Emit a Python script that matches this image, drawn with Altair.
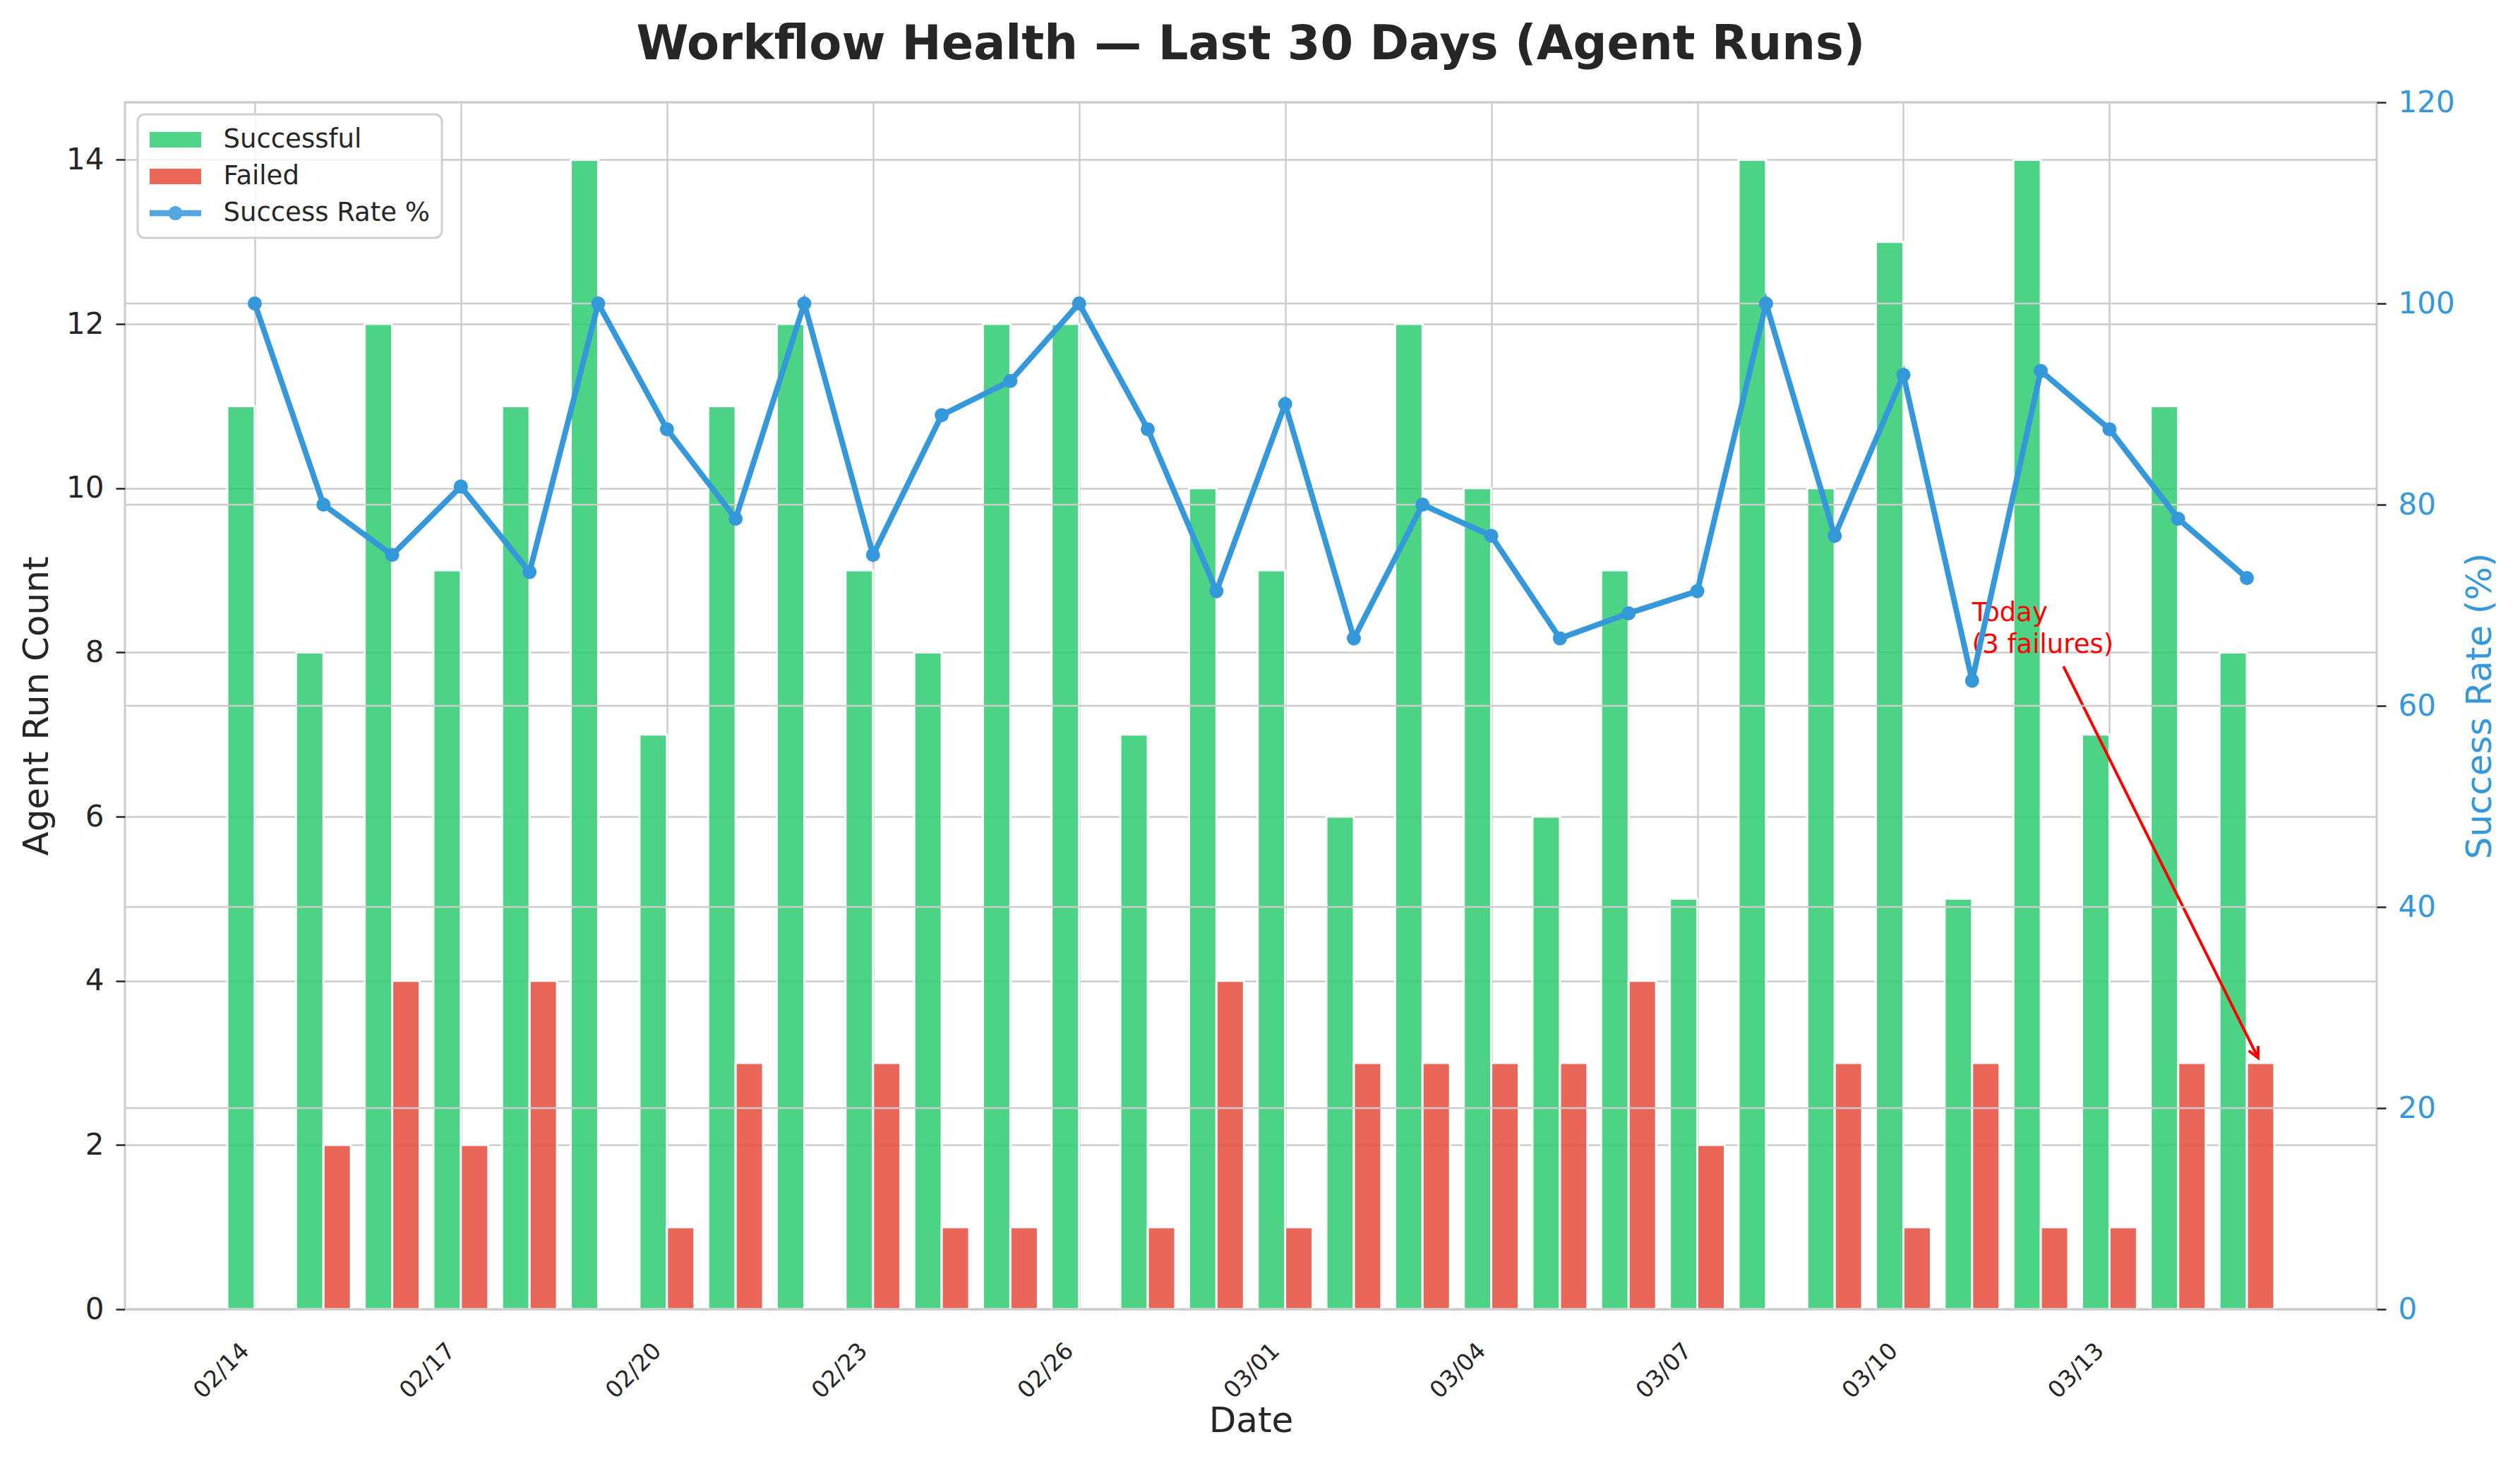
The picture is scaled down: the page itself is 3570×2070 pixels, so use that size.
import math
import altair as alt
import pandas as pd

# ---------------- data ----------------
DATES = ["02/14", "02/15", "02/16", "02/17", "02/18", "02/19", "02/20", "02/21",
         "02/22", "02/23", "02/24", "02/25", "02/26", "02/27", "02/28", "03/01",
         "03/02", "03/03", "03/04", "03/05", "03/06", "03/07", "03/08", "03/09",
         "03/10", "03/11", "03/12", "03/13", "03/14", "03/15"]
SUCCESSFUL = [11, 8, 12, 9, 11, 14, 7, 11, 12, 9, 8, 12, 12, 7, 10,
              9, 6, 12, 10, 6, 9, 5, 14, 10, 13, 5, 14, 7, 11, 8]
FAILED = [0, 2, 4, 2, 4, 0, 1, 3, 0, 3, 1, 1, 0, 1, 4,
          1, 3, 3, 3, 3, 4, 2, 0, 3, 1, 3, 1, 1, 3, 3]
SUCCESS_RATE = [100, 80, 75, 81.8, 73.3, 100, 87.5, 78.6, 100, 75, 88.9, 92.3, 100, 87.5, 71.4,
                90, 66.7, 80, 76.9, 66.7, 69.2, 71.4, 100, 76.9, 92.9, 62.5, 93.3, 87.5, 78.6, 72.7]
X_TICK_DAYS = [0, 3, 6, 9, 12, 15, 18, 21, 24, 27]
COUNT_TICKS = [0, 2, 4, 6, 8, 10, 12, 14]
RATE_TICKS = [0, 20, 40, 60, 80, 100, 120]
SERIES = ["Successful", "Failed", "Success Rate %"]
COLORS = ["#2ecc71", "#e74c3c", "#3498db"]
ANNOT_LINES = ["Today", "(3 failures)"]
ANNOT_TEXT_AT = (25, 8)      # day index, count
ANNOT_ARROW_FROM = (26.33, 7.83)
ANNOT_TARGET = (29.2, 3)     # failed bar of today

# ---------------- geometry / style ----------------
W, H = 3190, 1710
XMIN, XMAX = -1.89, 30.89
YMAX = 14.7
RMAX = 120
BAR_W = 0.4
FONT = "DejaVu Sans"
DARK = "#262626"
GRID = "#cccccc"

days = list(range(len(DATES)))
rows = []
for i in days:
    rows.append({"idx": i, "series": "Successful", "value": SUCCESSFUL[i],
                 "x0": i - BAR_W, "x1": i, "base": 0})
    rows.append({"idx": i, "series": "Failed", "value": FAILED[i],
                 "x0": i, "x1": i + BAR_W, "base": 0})
bars_df = pd.DataFrame(rows)
rate_df = pd.DataFrame({"idx": days, "rate": SUCCESS_RATE, "date": DATES})

label_expr = "[" + ",".join("'%s'" % d for d in DATES) + "][datum.value]"

xscale = alt.Scale(domain=[XMIN, XMAX], nice=False, zero=False)
yscale = alt.Scale(domain=[0, YMAX], nice=False, zero=True)
rscale = alt.Scale(domain=[0, RMAX], nice=False, zero=True)

# legend symbols (scale = sqrt(size)/2 = 19 px per unit)
RECT = "M-1.92,-0.58L1.92,-0.58L1.92,0.58L-1.92,0.58Z"
LINEDOT = ("M-1.92,-0.22L1.92,-0.22L1.92,0.22L-1.92,0.22Z"
           "M0.53,0A0.53,0.53,0,1,1,-0.53,0A0.53,0.53,0,1,1,0.53,0Z")

leg = alt.Legend(title=None, orient="none", legendX=18, legendY=17, padding=17,
                 rowPadding=15, labelFontSize=37, labelColor=DARK, labelFont=FONT,
                 labelOffset=49, labelLimit=0, strokeColor="#d0d0d0",
                 fillColor="rgba(255,255,255,0.8)", cornerRadius=10,
                 symbolSize=1444, symbolOffset=17.5, symbolOpacity=0.85,
                 symbolStrokeWidth=0)
color_enc = alt.Color("series:N", scale=alt.Scale(domain=SERIES, range=COLORS), legend=leg)

x_axis = alt.Axis(values=X_TICK_DAYS, labelExpr=label_expr, labelAngle=315,
                  labelAlign="right", labelBaseline="top", labelFontSize=33,
                  labelColor=DARK, labelPadding=42, labelOffset=-25, labelFlush=False,
                  labelOverlap=False, ticks=False, grid=True, gridColor=GRID,
                  gridWidth=2.5, domain=False, title="Date", titleFontSize=50,
                  titleFontWeight="normal", titleColor=DARK, titleY=158,
                  titleBaseline="middle")


def X(field):
    # every layer shares the same x axis definition
    return alt.X(field, scale=xscale, axis=x_axis)


y_axis = alt.Axis(orient="left", values=COUNT_TICKS, grid=True, gridColor=GRID,
                  gridWidth=2.5, tickColor=DARK, tickSize=13, tickWidth=2.5,
                  labelFontSize=42, labelColor=DARK, labelPadding=17, domain=False,
                  title="Agent Run Count", titleFontSize=50, titleFontWeight="normal",
                  titleColor=DARK, titleAngle=270, titleX=-125, titleY=H / 2,
                  titleBaseline="middle", titleAlign="center")

r_axis = alt.Axis(orient="right", values=RATE_TICKS, grid=False, tickColor=DARK,
                  tickSize=13, tickWidth=2.5, labelFontSize=42, labelColor="#3498db",
                  labelPadding=17, domain=False, title="Success Rate (%)",
                  titleFontSize=50, titleFontWeight="normal", titleColor="#3498db",
                  titleAngle=270, titleX=146, titleY=H / 2, titleBaseline="middle",
                  titleAlign="center")

bars = alt.Chart(bars_df).transform_filter("datum.value > 0").mark_rect(
    opacity=0.85, stroke="white", strokeWidth=3
).encode(
    x=X("x0:Q"),
    x2="x1:Q",
    y=alt.Y("value:Q", scale=yscale, axis=y_axis),
    y2="base:Q",
    color=color_enc,
)

legend_pts = alt.Chart(pd.DataFrame({"series": SERIES})).mark_point(
    opacity=0, filled=True
).encode(
    color=color_enc,
    shape=alt.Shape("series:N", scale=alt.Scale(domain=SERIES, range=[RECT, RECT, LINEDOT]),
                    legend=leg),
)

# annotation
ppd = W / (XMAX - XMIN)
ppu = H / YMAX
dxp = (ANNOT_TARGET[0] - ANNOT_ARROW_FROM[0]) * ppd
dyp = -(ANNOT_TARGET[1] - ANNOT_ARROW_FROM[1]) * ppu
ln = math.hypot(dxp, dyp)
ux, uy = dxp / ln, dyp / ln
shrink = 8
tip_x = ANNOT_TARGET[0] - shrink * ux / ppd
tip_y = ANNOT_TARGET[1] + shrink * uy / ppu
head_angle = math.degrees(math.atan2(ux, -uy)) % 360

annot_df = pd.DataFrame({"tx": [ANNOT_TEXT_AT[0]], "ty": [ANNOT_TEXT_AT[1]],
                         "ax": [ANNOT_ARROW_FROM[0]], "ay": [ANNOT_ARROW_FROM[1]],
                         "hx": [tip_x], "hy": [tip_y]})

annot_text = alt.Chart(annot_df).mark_text(
    text=ANNOT_LINES, align="left", baseline="top", dy=-73, lineHeight=45,
    fontSize=37, color="#ff0000", font=FONT
).encode(
    x=X("tx:Q"),
    y=alt.Y("ty:Q", scale=yscale, axis=None),
)

annot_line = alt.Chart(annot_df).mark_rule(color="#ff0000", strokeWidth=4).encode(
    x=X("ax:Q"),
    y=alt.Y("ay:Q", scale=yscale, axis=None),
    x2="hx:Q",
    y2="hy:Q",
)

annot_head = alt.Chart(annot_df).mark_point(
    shape="M-0.5,1L0,0L0.5,1", size=900, filled=False, stroke="#ff0000",
    strokeWidth=4, opacity=1, angle=head_angle
).encode(
    x=X("hx:Q"),
    y=alt.Y("hy:Q", scale=yscale, axis=None),
)

rate_grid = alt.Chart(pd.DataFrame({"tick": RATE_TICKS})).mark_rule(
    color=GRID, strokeWidth=2.5
).encode(y=alt.Y("tick:Q", scale=rscale, axis=None))

rate_line = alt.Chart(rate_df).mark_line(
    color="#3498db", strokeWidth=8,
    point=alt.OverlayMarkDef(filled=True, size=400, color="#3498db", opacity=1)
).encode(
    x=X("idx:Q"),
    y=alt.Y("rate:Q", scale=rscale, axis=r_axis),
)

chart = alt.layer(
    bars, annot_text, annot_line, annot_head, legend_pts, rate_grid, rate_line
).resolve_scale(y="independent").properties(
    width=W, height=H,
    padding={"left": 169, "top": 137, "right": 193, "bottom": 205},
    autosize=alt.AutoSizeParams(type="none"),
    title=alt.TitleParams(
        text="Workflow Health \u2014 Last 30 Days (Agent Runs)", fontSize=67,
        fontWeight="bold", font=FONT, color=DARK, anchor="middle", frame="group",
        offset=26),
).configure(font=FONT).configure_view(
    stroke=GRID, strokeWidth=3
).configure_legend(strokeWidth=3)

chart.save("out.html", embed_options={"renderer": "svg", "actions": False})
